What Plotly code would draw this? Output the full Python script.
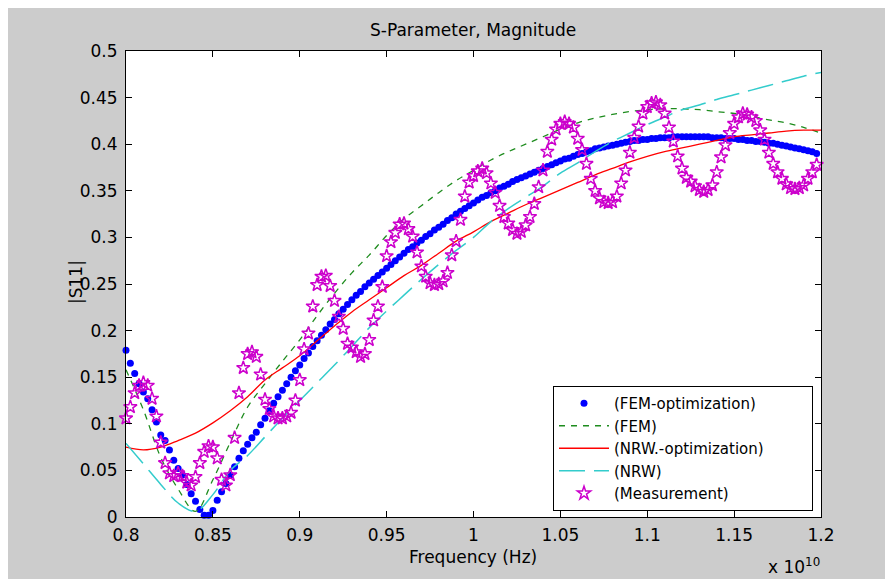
import plotly.graph_objects as go

# ---------------- data ----------------
F_START = 0.8          # x 1e10 Hz
F_STEP_DENSE = 0.0025
F_STEP_LINE = 0.01

fem_opt = [
    0.179, 0.165, 0.154, 0.143, 0.134, 0.127, 0.115, 0.102, 0.088, 0.082,
    0.072, 0.061, 0.052, 0.045, 0.035, 0.025, 0.017, 0.008, 0.002, 0.002,
    0.007, 0.018, 0.027, 0.036, 0.045, 0.054, 0.063, 0.071, 0.078, 0.085,
    0.091, 0.099, 0.106, 0.114, 0.122, 0.129, 0.136, 0.143, 0.150, 0.157,
    0.163, 0.170, 0.176, 0.183, 0.189, 0.195, 0.201, 0.207, 0.212, 0.218,
    0.223, 0.228, 0.233, 0.238, 0.242, 0.247, 0.251, 0.255, 0.259, 0.263,
    0.267, 0.271, 0.275, 0.279, 0.283, 0.287, 0.290, 0.294, 0.297, 0.301,
    0.304, 0.308, 0.311, 0.314, 0.318, 0.321, 0.325, 0.328, 0.331, 0.334,
    0.337, 0.340, 0.343, 0.345, 0.348, 0.350, 0.353, 0.355, 0.357, 0.360,
    0.362, 0.364, 0.366, 0.368, 0.370, 0.372, 0.374, 0.376, 0.378, 0.380,
    0.382, 0.384, 0.385, 0.387, 0.389, 0.390, 0.392, 0.393, 0.395, 0.396,
    0.397, 0.398, 0.399, 0.400, 0.401, 0.402, 0.403, 0.404, 0.404, 0.405,
    0.405, 0.406, 0.406, 0.407, 0.407, 0.407, 0.408, 0.408, 0.408, 0.408,
    0.408, 0.408, 0.408, 0.408, 0.408, 0.407, 0.407, 0.407, 0.406, 0.406,
    0.406, 0.405, 0.405, 0.404, 0.404, 0.403, 0.403, 0.402, 0.401, 0.401,
    0.400, 0.399, 0.398, 0.397, 0.396, 0.395, 0.394, 0.393, 0.392, 0.390,
    0.389,
]

measurement = [
    0.106, 0.118, 0.133, 0.141, 0.144, 0.141, 0.127, 0.108, 0.080, 0.058,
    0.047, 0.044, 0.047, 0.044, 0.037, 0.034, 0.043, 0.058, 0.070, 0.076,
    0.075, 0.063, 0.040, 0.034, 0.045, 0.085, 0.133, 0.160, 0.175, 0.177,
    0.172, 0.153, 0.126, 0.116, 0.108, 0.106, 0.106, 0.108, 0.112, 0.125,
    0.147, 0.180, 0.197, 0.226, 0.249, 0.258, 0.259, 0.248, 0.232, 0.215,
    0.202, 0.186, 0.182, 0.177, 0.172, 0.175, 0.190, 0.211, 0.226, 0.247,
    0.280, 0.295, 0.305, 0.314, 0.315, 0.309, 0.301, 0.284, 0.269, 0.258,
    0.251, 0.249, 0.250, 0.253, 0.262, 0.281, 0.296, 0.319, 0.344, 0.359,
    0.366, 0.371, 0.374, 0.369, 0.358, 0.348, 0.334, 0.322, 0.315, 0.308,
    0.304, 0.306, 0.313, 0.322, 0.336, 0.354, 0.372, 0.392, 0.405, 0.416,
    0.422, 0.424, 0.422, 0.418, 0.406, 0.394, 0.379, 0.363, 0.350, 0.342,
    0.338, 0.337, 0.338, 0.344, 0.358, 0.372, 0.391, 0.407, 0.419, 0.433,
    0.440, 0.444, 0.445, 0.442, 0.433, 0.418, 0.403, 0.387, 0.374, 0.364,
    0.360, 0.355, 0.351, 0.349, 0.351, 0.356, 0.370, 0.386, 0.399, 0.412,
    0.422, 0.429, 0.433, 0.432, 0.429, 0.425, 0.415, 0.405, 0.391, 0.379,
    0.370, 0.363, 0.357, 0.353, 0.352, 0.353, 0.356, 0.363, 0.370, 0.378,
    0.386,
]

fem = [
    0.158, 0.115, 0.064, 0.030, 0.006, 0.040, 0.080, 0.118, 0.143, 0.167,
    0.190, 0.216, 0.240, 0.262, 0.281, 0.302, 0.320, 0.334, 0.348, 0.361,
    0.372, 0.383, 0.392, 0.400, 0.408, 0.416, 0.423, 0.428, 0.432, 0.435,
    0.437, 0.438, 0.438, 0.437, 0.435, 0.433, 0.430, 0.426, 0.423, 0.418,
    0.412,
]

nrw_opt = [
    0.075, 0.072, 0.075, 0.082, 0.090, 0.101, 0.114, 0.129, 0.147, 0.160,
    0.173, 0.189, 0.205, 0.220, 0.233, 0.246, 0.259, 0.270, 0.283, 0.296,
    0.306, 0.317, 0.326, 0.335, 0.343, 0.351, 0.359, 0.367, 0.374, 0.381,
    0.387, 0.392, 0.396, 0.400, 0.404, 0.408, 0.410, 0.412, 0.414, 0.415,
    0.415,
]

nrw = [
    0.079, 0.057, 0.035, 0.015, 0.006, 0.024, 0.050, 0.066, 0.086, 0.106,
    0.125, 0.144, 0.163, 0.183, 0.203, 0.221, 0.238, 0.255, 0.271, 0.286,
    0.300, 0.317, 0.331, 0.343, 0.355, 0.369, 0.380, 0.392, 0.403, 0.412,
    0.421, 0.429, 0.437, 0.442, 0.448, 0.453, 0.458, 0.463, 0.468, 0.473,
    0.477,
]

series_names = ["(FEM-optimization)", "(FEM)", "(NRW.-optimization)", "(NRW)", "(Measurement)"]

x_tickvals = [0.8, 0.85, 0.9, 0.95, 1.0, 1.05, 1.1, 1.15, 1.2]
x_ticktext = ["0.8", "0.85", "0.9", "0.95", "1", "1.05", "1.1", "1.15", "1.2"]
y_tickvals = [0, 0.05, 0.1, 0.15, 0.2, 0.25, 0.3, 0.35, 0.4, 0.45, 0.5]
y_ticktext = ["0", "0.05", "0.1", "0.15", "0.2", "0.25", "0.3", "0.35", "0.4", "0.45", "0.5"]

freq_dense = [F_START + F_STEP_DENSE * i for i in range(len(fem_opt))]
freq_line = [F_START + F_STEP_LINE * i for i in range(len(fem))]

# ---------------- layout geometry ----------------
OFF = 8                      # page body margin
W, H = 893 - OFF, 579 - OFF
L, R, T, B = 118, 72, 43, 62
PW, PH = W - L - R, H - T - B


def px(xpage):
    return (xpage - OFF - L) / PW


def py(ypage):
    return (H - B - (ypage - OFF)) / PH


FONT = "DejaVu Sans, Liberation Sans, Arial, sans-serif"
FS = 17
NB = "\u00a0"

fig = go.Figure()
fig.add_trace(go.Scatter(
    x=freq_dense, y=fem_opt, mode="markers", name=series_names[0] + NB * 9,
    marker=dict(color="#0000ff", size=7, symbol="circle", line=dict(width=0)),
    cliponaxis=False))
fig.add_trace(go.Scatter(
    x=freq_line, y=fem, mode="lines", name=series_names[1], line_shape="spline",
    line=dict(color="#1e8c1e", width=1.3, dash="6px,6px")))
fig.add_trace(go.Scatter(
    x=freq_line, y=nrw_opt, mode="lines", name=series_names[2] + NB * 9, line_shape="spline",
    line=dict(color="#ff0000", width=1.3)))
fig.add_trace(go.Scatter(
    x=freq_line, y=nrw, mode="lines", name=series_names[3], line_shape="spline",
    line=dict(color="#33cccc", width=1.5, dash="26px,9px")))
fig.add_trace(go.Scatter(
    x=freq_dense, y=measurement, mode="markers", name=series_names[4],
    marker=dict(color="#cc00cc", size=10, symbol="star-open", line=dict(width=1.5, color="#cc00cc")),
    cliponaxis=False))

axis_common = dict(
    showline=True, linecolor="black", linewidth=1, mirror="ticks",
    ticks="inside", ticklen=6, tickcolor="black", tickwidth=1,
    showgrid=False, zeroline=False,
    tickfont=dict(family=FONT, size=FS, color="black"),
)

fig.update_layout(
    width=W, height=H,
    margin=dict(l=L, r=R, t=T, b=B, pad=0),
    paper_bgcolor="#cccccc",
    plot_bgcolor="white",
    showlegend=True,
    legend=dict(
        x=px(813), y=py(511), xanchor="right", yanchor="bottom",
        bgcolor="white", bordercolor="black", borderwidth=1,
        font=dict(family=FONT, size=15, color="black"),
        itemwidth=50, tracegroupgap=0,
    ),
    xaxis=dict(range=[0.8, 1.2], tickvals=x_tickvals, ticktext=x_ticktext,
               ticklabelstandoff=3, **axis_common),
    yaxis=dict(range=[0, 0.5], tickvals=y_tickvals, ticktext=y_ticktext,
               ticklabelstandoff=4, **axis_common),
    annotations=[
        dict(text="S-Parameter, Magnitude", xref="paper", yref="paper",
             x=px(473), y=py(30), xanchor="center", yanchor="middle", showarrow=False,
             font=dict(family=FONT, size=FS, color="black")),
        dict(text="Frequency (Hz)", xref="paper", yref="paper",
             x=px(473), y=py(557), xanchor="center", yanchor="middle", showarrow=False,
             font=dict(family=FONT, size=FS, color="black")),
        dict(text="|S11|", xref="paper", yref="paper", textangle=-90,
             x=px(76), y=py(282), xanchor="center", yanchor="middle", showarrow=False,
             font=dict(family=FONT, size=FS, color="black")),
        dict(text="x 10<sup>10</sup>", xref="paper", yref="paper",
             x=px(822), y=py(566), xanchor="right", yanchor="middle", showarrow=False,
             font=dict(family=FONT, size=FS, color="black")),
    ],
)

fig.write_html("out.html", config={"displayModeBar": False})
